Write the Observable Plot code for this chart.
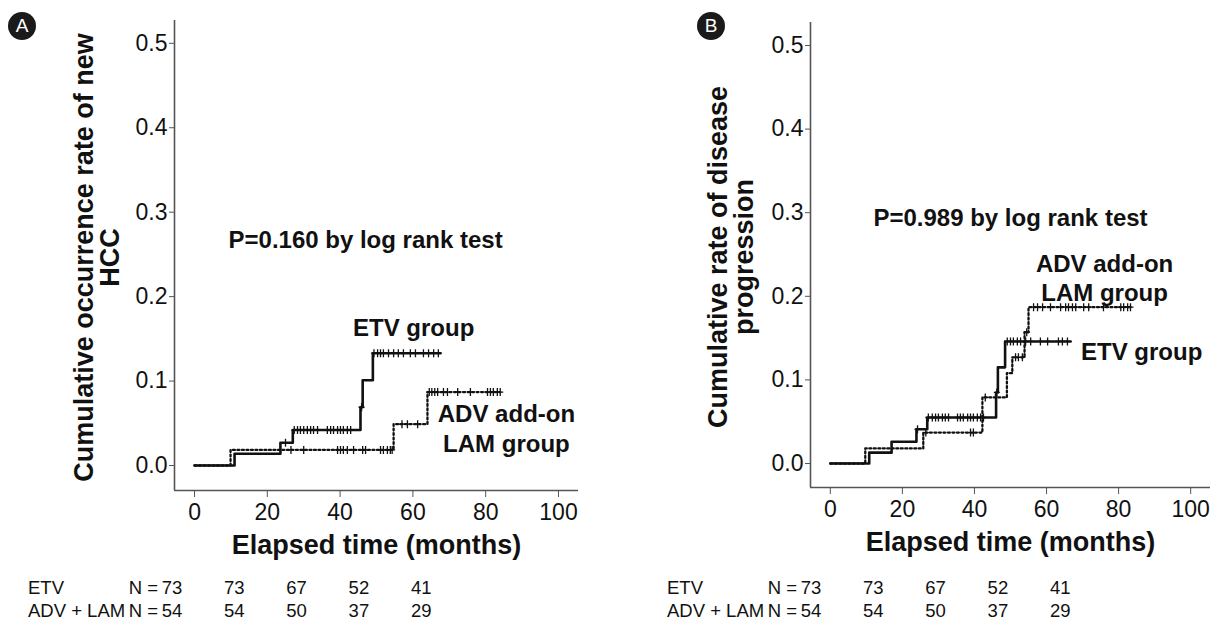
<!DOCTYPE html>
<html><head><meta charset="utf-8">
<script src="https://cdn.jsdelivr.net/npm/d3@7"></script>
<script src="https://cdn.jsdelivr.net/npm/@observablehq/plot@0.6"></script>
<style>
body{margin:0;background:#fff;}
#wrap{position:relative;width:1221px;height:623px;overflow:hidden;font-family:"Liberation Sans",Arial,sans-serif;color:#111;}
.panel{position:absolute;top:0;}
.badge{position:absolute;width:28px;height:28px;border-radius:50%;background:#1a1a1a;color:#fff;font:19px "Liberation Sans",Arial,sans-serif;display:flex;align-items:center;justify-content:center;}
.risk{position:absolute;font-size:18.5px;line-height:20px;white-space:nowrap;}
</style></head>
<body>
<div id="wrap">
  <div id="pa" class="panel" style="left:0px"></div>
  <div id="pb" class="panel" style="left:636px"></div>
  <div class="badge" style="left:8px;top:12px">A</div>
  <div class="badge" style="left:697px;top:12px">B</div>
  <div id="risk"></div>
</div>
<script>
// ---------- data ----------
const xTicks = [0, 20, 40, 60, 80, 100];
const yTicks = [0, 0.1, 0.2, 0.3, 0.4, 0.5];

// Panel A: cumulative occurrence of new HCC
const aEtvT = [0, 11, 23.6, 27, 45.6, 46.2, 49, 67.6];
const aEtvV = [0, 0.014, 0.027, 0.042, 0.069, 0.101, 0.133, 0.133];
const aEtvCens = [25, 27.4, 28.3, 29.1, 30, 31, 31.9, 32.7, 33.8, 36.5, 37.4, 38.2, 39.3, 40.1, 40.9, 42, 42.9, 45.9, 49.3, 50.3, 51.1, 51.9, 53.3, 54.7, 56, 57.4, 59.3, 60.7, 62.9, 64.3, 65.7, 67.0];
const aAdvT = [0, 9.9, 54.7, 64, 84];
const aAdvV = [0, 0.0185, 0.049, 0.087, 0.087];
const aAdvCens = [26.5, 30, 39.3, 40.1, 40.9, 42, 43.7, 46.2, 47, 51.1, 51.9, 53, 53.8, 54.3, 57, 58.5, 61.3, 64.5, 65.2, 66, 66.8, 68.4, 69.5, 72.3, 75.8, 80.5, 81.3, 82.1, 83.2, 84];

// Panel B: cumulative rate of disease progression
const bEtvT = [0, 10.8, 17, 23.9, 26.9, 46, 46.5, 48.5, 66.7];
const bEtvV = [0, 0.013, 0.026, 0.041, 0.055, 0.085, 0.115, 0.146, 0.146];
const bEtvCens = [24.2, 27.2, 28.3, 29.2, 30, 31.1, 31.9, 32.8, 35.3, 36.1, 36.9, 38.1, 38.9, 39.7, 40.8, 41.7, 42.5, 46.2, 49.1, 50, 50.8, 51.9, 52.8, 54.2, 55.6, 58.3, 60.3, 63.3, 64.4, 65.8];
const bAdvT = [0, 9.7, 25.8, 42.2, 49, 50.5, 53.9, 55, 83.9];
const bAdvV = [0, 0.018, 0.037, 0.079, 0.108, 0.127, 0.157, 0.187, 0.187];
const bAdvCens = [26.5, 38.9, 39.7, 43, 51.4, 52.2, 53.3, 54.5, 56.4, 57.5, 58.9, 61.1, 63.9, 65.3, 66.1, 67.2, 68.1, 70.3, 71.7, 75.8, 80.6, 81.4, 82.5, 83.3];

// Numbers at risk
const riskGroups = ["ETV", "ADV + LAM"];
const etvRisk = [73, 73, 67, 52, 41];
const advRisk = [54, 54, 50, 37, 29];

// Texts
const aYLabel = "Cumulative occurrence rate of new\nHCC";
const bYLabel = "Cumulative rate of disease\nprogression";
const xLabel = "Elapsed time (months)";
const aPText = "P=0.160 by log rank test";
const bPText = "P=0.989 by log rank test";
const etvLabel = "ETV group";
const advLabel = "ADV add-on\nLAM group";

// ---------- drawing ----------
const FONT = '"Liberation Sans", Arial, sans-serif';
const censorSymbol = {
  draw(ctx, size) {
    const r = Math.sqrt(size / Math.PI);
    ctx.moveTo(0, -r); ctx.lineTo(0, r);
    ctx.moveTo(-r * 0.75, 0); ctx.lineTo(r * 0.75, 0);
  }
};
function levelAt(T, V, t) { return V[Math.max(0, d3.bisectRight(T, t) - 1)]; }
function steps(T, V) { return T.map((t, i) => ({t, v: V[i]})); }
function cens(T, V, C) { return C.map(t => ({t, v: levelAt(T, V, t)})); }
const bold = {fontWeight: "bold", fontFamily: FONT, fill: "#111", textAnchor: "middle"};

function panel(cfg) {
  const xDom = [-5.5, 105.5];
  const marks = [
    Plot.ruleX([xDom[0]], {stroke: "#555", strokeWidth: 1.6}),
    Plot.ruleY([cfg.yDom[0]], {stroke: "#555", strokeWidth: 1.6}),
    Plot.axisX({ticks: xTicks, tickSize: 7, tickPadding: 6, fontSize: 23, fontFamily: FONT, stroke: "#555", fill: "#111", label: null}),
    Plot.axisY({ticks: yTicks, tickFormat: d3.format(".1f"), tickSize: 5, tickPadding: 2, fontSize: 23, fontFamily: FONT, stroke: "#555", fill: "#111", label: null}),
    Plot.line(steps(cfg.advT, cfg.advV), {x: "t", y: "v", curve: "step-after", stroke: "#111", strokeWidth: 2.3, strokeDasharray: "2,2.5"}),
    Plot.line(steps(cfg.etvT, cfg.etvV), {x: "t", y: "v", curve: "step-after", stroke: "#111", strokeWidth: 2.6}),
    Plot.dot(cens(cfg.advT, cfg.advV, cfg.advC), {x: "t", y: "v", symbol: censorSymbol, r: 4, stroke: "#111", strokeWidth: 1.3, fill: "none"}),
    Plot.dot(cens(cfg.etvT, cfg.etvV, cfg.etvC), {x: "t", y: "v", symbol: censorSymbol, r: 4, stroke: "#111", strokeWidth: 1.3, fill: "none"}),
    Plot.text([cfg.yLabel], {...bold, frameAnchor: "left", rotate: -90, dx: cfg.labelDx, dy: 2, fontSize: 27, lineHeight: 0.95}),
    Plot.text([xLabel], {...bold, frameAnchor: "bottom", dy: 63, fontSize: 27}),
    Plot.text([cfg.pNote], {...bold, x: d => d.x, y: d => d.y, text: d => d.text, fontSize: 24}),
    Plot.text([cfg.etvNote], {...bold, x: d => d.x, y: d => d.y, text: d => d.text, fontSize: 24}),
    Plot.text([cfg.advNote], {...bold, x: d => d.x, y: d => d.y, text: d => d.text, fontSize: 24, lineHeight: cfg.advLH})
  ];
  return Plot.plot({
    width: cfg.width, height: 560,
    marginLeft: 174, marginRight: cfg.marginRight, marginTop: cfg.marginTop, marginBottom: cfg.marginBottom,
    x: {domain: xDom}, y: {domain: cfg.yDom},
    style: {fontFamily: FONT, background: "transparent", color: "#111", overflow: "visible"},
    marks
  });
}

document.getElementById("pa").append(panel({
  width: 610, marginRight: 32, marginTop: 20, marginBottom: 70, yDom: [-0.0296, 0.527],
  etvT: aEtvT, etvV: aEtvV, etvC: aEtvCens, advT: aAdvT, advV: aAdvV, advC: aAdvCens,
  yLabel: aYLabel, labelDx: -77,
  pNote: {x: 47, y: 0.2666, text: aPText},
  etvNote: {x: 60.2, y: 0.162, text: etvLabel},
  advNote: {x: 85.7, y: 0.045, text: advLabel}, advLH: 1.25
}));
document.getElementById("pb").append(panel({
  width: 585, marginRight: 11, marginTop: 22, marginBottom: 73, yDom: [-0.0287, 0.5275],
  etvT: bEtvT, etvV: bEtvV, etvC: bEtvCens, advT: bAdvT, advV: bAdvV, advC: bAdvCens,
  yLabel: bYLabel, labelDx: -79,
  pNote: {x: 50, y: 0.293, text: bPText},
  etvNote: {x: 86.4, y: 0.133, text: etvLabel},
  advNote: {x: 76.1, y: 0.2225, text: advLabel}, advLH: 1.17
}));

// numbers at risk table (HTML text)
const risk = document.getElementById("risk");
const rows = [etvRisk, advRisk];
[0, 639].forEach(off => {
  rows.forEach((vals, r) => {
    const top = 578 + r * 23;
    const g = document.createElement("div");
    g.className = "risk"; g.style.left = (28 + off) + "px"; g.style.top = top + "px";
    g.textContent = riskGroups[r];
    risk.append(g);
    const n = document.createElement("div");
    n.className = "risk"; n.style.left = (122 + off) + "px"; n.style.top = top + "px";
    n.style.width = "36px"; n.style.textAlign = "right";
    n.textContent = "N =";
    risk.append(n);
    vals.forEach((v, i) => {
      const d = document.createElement("div");
      d.className = "risk"; d.style.left = (172 + 62.3 * i - 20 + off) + "px"; d.style.top = top + "px";
      d.style.width = "40px"; d.style.textAlign = "center";
      d.textContent = v;
      risk.append(d);
    });
  });
});
</script>
</body></html>
